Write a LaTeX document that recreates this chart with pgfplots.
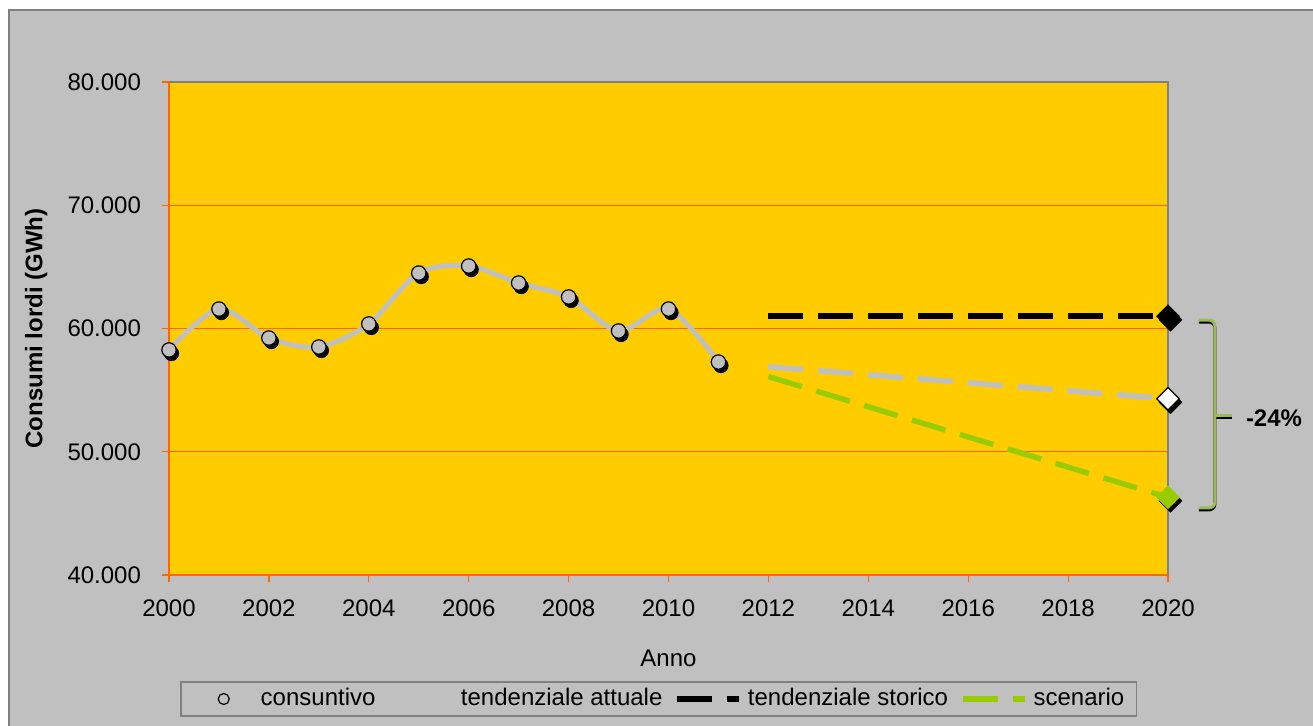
\documentclass[border=0pt]{standalone}
\usepackage{pgfplots}
\usepackage{pgfplotstable}
\pgfplotsset{compat=1.18}
\usepackage{fontspec}
\setmainfont{Liberation Sans}
\definecolor{bgc}{HTML}{C0C0C0}
\definecolor{framec}{HTML}{808080}
\definecolor{plotc}{HTML}{FFCC00}
\definecolor{orc}{HTML}{FF6600}
\definecolor{greenc}{HTML}{99CC00}
\definecolor{bracec}{HTML}{9BBB59}

\pgfplotstableread{
anno val
2000 58260
2001 61580
2002 59230
2003 58500
2004 60370
2005 64500
2006 65070
2007 63690
2008 62560
2009 59800
2010 61580
2011 57280
}\cons

\newcommand{\fs}{\fontsize{12}{14.4}\selectfont}

\begin{document}
\begin{tikzpicture}[font=\fs]
\useasboundingbox (0,0) rectangle (656.5pt,362.5pt);
\fill[white] (0,0) rectangle (656.5pt,362.5pt);
\filldraw[fill=bgc, draw=framec, line width=1pt] (4.5pt,-5pt) rectangle (665pt,357.5pt);
\begin{axis}[
  at={(84.5pt,75pt)}, anchor=south west,
  scale only axis, width=499.5pt, height=246.5pt,
  xmin=2000, xmax=2020, ymin=40000, ymax=80000,
  xtick={2000,2002,...,2020},
  ytick={40000,50000,60000,70000,80000},
  scaled y ticks=false,
  /pgf/number format/assume math mode=true,
  xticklabel style={/pgf/number format/1000 sep={}, font=\fs, yshift=-5.5pt},
  yticklabel style={/pgf/number format/fixed, /pgf/number format/1000 sep={.}, font=\fs, xshift=-7pt},
  tick align=outside, tickpos=left, major tick length=3.5pt,
  tick style={draw=orc, line width=0.6pt},
  ymajorgrids, grid style={draw=orc, line width=0.6pt},
  axis line style={draw=none},
  axis background/.style={fill=plotc},
  clip=false,
  xlabel={Anno}, ylabel={Consumi lordi (GWh)},
  xlabel style={at={(axis description cs:0.5,-0.1694)}, anchor=center, font=\fs},
  ylabel style={at={(axis description cs:-0.133,0.5)}, anchor=center, font=\bfseries\fs},
  legend columns=4,
  legend style={at={(axis description cs:0.49,-0.2515)}, anchor=center,
    draw=framec, fill=bgc, line width=0.8pt, inner xsep=6pt, inner ysep=3pt,
    font=\fs, nodes={inner sep=0pt, text depth=0.25em}, cells={anchor=west},
    /tikz/every odd column/.style={column sep=3pt},
    /tikz/every even column/.style={column sep=6pt}},
]
\draw[framec, line width=0.8pt] (rel axis cs:0,1) -- (rel axis cs:1,1) -- (rel axis cs:1,0);
\draw[orc, line width=0.8pt] (rel axis cs:0,1) -- (rel axis cs:0,0) -- (rel axis cs:1,0);

% consuntivo
\addplot[forget plot, only marks, mark=*, mark size=3.6pt,
  mark options={xshift=1.25pt, yshift=-1.75pt, fill=black, draw=black}] table[x=anno,y=val] {\cons};
\addplot[forget plot, color=bgc, line width=2.5pt, smooth] table[x=anno,y=val] {\cons};
\addplot[forget plot, only marks, mark=*, mark size=3.6pt,
  mark options={fill=bgc, draw=black, line width=0.6pt}]
  table[x=anno,y=val] {\cons};
\addlegendimage{legend image code/.code={\path[draw=none, fill=none] (0pt,0pt) -- (31pt,0pt);
    \path[draw=black, fill=bgc, line width=0.6pt] (15.5pt,0pt) circle (2.75pt);}}
\addlegendentry{consuntivo}

% tendenziale attuale
\addplot[color=bgc, line width=2.75pt, dash pattern=on 17.5pt off 7.5pt,
  legend image code/.code={\draw[bgc, line width=2.75pt, dash pattern=on 17.5pt off 7.5pt] (0pt,0pt) -- (31pt,0pt);}]
  coordinates {(2012,56900) (2020,54300)};
\addlegendentry{tendenziale attuale}

% tendenziale storico
\addplot[color=black, line width=2.75pt, dash pattern=on 17.5pt off 7.5pt,
  legend image code/.code={\draw[black, line width=2.75pt, dash pattern=on 17.5pt off 7.5pt] (0pt,0pt) -- (31pt,0pt);}]
  coordinates {(2012,61000) (2020,61000)};
\addlegendentry{tendenziale storico}

% scenario
\addplot[color=greenc, line width=2.75pt, dash pattern=on 17.5pt off 7.5pt,
  legend image code/.code={\draw[greenc, line width=2.75pt, dash pattern=on 17.5pt off 7.5pt] (0pt,0pt) -- (31pt,0pt);}]
  coordinates {(2012,56100) (2020,46300)};
\addlegendentry{scenario}

% diamonds
\addplot[forget plot, only marks, mark=square*, mark size=4pt,
  mark options={xshift=1.25pt, yshift=-1.75pt, rotate=45, fill=black, draw=black}]
  coordinates {(2020,61000) (2020,54300) (2020,46300)};
\addplot[forget plot, only marks, mark=square*, mark size=4pt,
  mark options={rotate=45, fill=black, draw=black}] coordinates {(2020,61000)};
\addplot[forget plot, only marks, mark=square*, mark size=4pt,
  mark options={rotate=45, fill=white, draw=black, line width=0.6pt}] coordinates {(2020,54300)};
\addplot[forget plot, only marks, mark=square*, mark size=4pt,
  mark options={rotate=45, fill=greenc, draw=greenc}] coordinates {(2020,46300)};

% bracket
\draw[black, line width=1.5pt, rounded corners=3pt, yshift=-1pt]
  (axis cs:2020.62,60690) -- (axis cs:2020.94,60690) -- (axis cs:2020.94,45440) -- (axis cs:2020.62,45440);
\draw[black, line width=1.5pt, yshift=-1pt] (axis cs:2020.94,52980) -- (axis cs:2021.28,52980);
\draw[bracec, line width=1.5pt, rounded corners=3pt]
  (axis cs:2020.62,60690) -- (axis cs:2020.94,60690) -- (axis cs:2020.94,45440) -- (axis cs:2020.62,45440);
\draw[bracec, line width=1.5pt] (axis cs:2020.94,52980) -- (axis cs:2021.28,52980);
\node[anchor=west, font=\bfseries\fs] at (axis cs:2021.42,52740) {-24\%};
\end{axis}
\end{tikzpicture}
\end{document}
